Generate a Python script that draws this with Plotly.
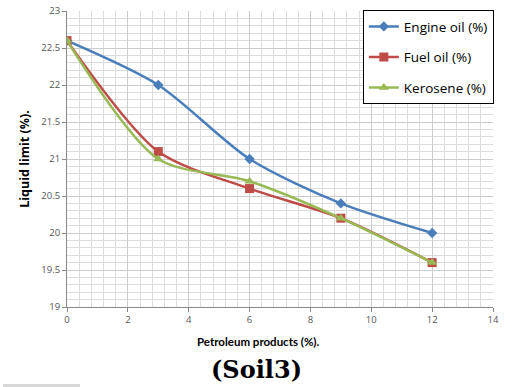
import plotly.graph_objects as go

x_vals = [0, 3, 6, 9, 12]
engine_oil = [22.6, 22.0, 21.0, 20.4, 20.0]
fuel_oil = [22.6, 21.1, 20.6, 20.2, 19.6]
kerosene = [22.6, 21.0, 20.7, 20.2, 19.6]
series_names = ["Engine oil (%)", "Fuel oil (%)", "Kerosene (%)"]
x_ticks = [0, 2, 4, 6, 8, 10, 12, 14]
y_ticks = [19, 19.5, 20, 20.5, 21, 21.5, 22, 22.5, 23]

colors = ["#4A7EBB", "#BE4B48", "#98B954"]
symbols = ["diamond", "square", "triangle-up"]
sizes = [8, 9, 9]

L, R, T, B = 67, 12, 11, 80
W, H = 505, 387
PW, PH = W - L - R, H - T - B


def px_x(p):
    return (p - L) / PW


def px_y(p):
    return (H - B - p) / PH


fig = go.Figure()
for i, (name, ys) in enumerate(zip(series_names, [engine_oil, fuel_oil, kerosene])):
    fig.add_trace(go.Scatter(
        x=x_vals, y=ys, name=name, mode="lines+markers",
        line=dict(color=colors[i], width=2.5, shape="spline", smoothing=0.8),
        marker=dict(symbol=symbols[i], size=sizes[i], color=colors[i]),
        legendgroup=f"g{i}",
    ))

fig.update_layout(
    width=W, height=H,
    margin=dict(l=L, r=R, t=T, b=B, autoexpand=False),
    paper_bgcolor="white", plot_bgcolor="white",
    showlegend=True,
    legend=dict(
        x=1.002, y=1.003, xanchor="right", yanchor="top",
        bordercolor="black", borderwidth=1, bgcolor="white",
        font=dict(family="Open Sans", size=13.5, color="black"),
        traceorder="grouped", tracegroupgap=10, itemwidth=30,
    ),
    font=dict(family="Open Sans"),
)
fig.update_xaxes(
    range=[0, 14], tickvals=x_ticks, ticktext=[str(v) for v in x_ticks],
    showgrid=True, gridcolor="#cccccc", gridwidth=1,
    minor=dict(dtick=0.4, showgrid=True, gridcolor="#dcdcdc", gridwidth=1),
    showline=True, linecolor="#888888", linewidth=1,
    ticks="outside", ticklen=4, tickcolor="#888888",
    tickfont=dict(size=9.5, color="#555555", family="Open Sans"),
    zeroline=False, automargin=False,
)
fig.update_yaxes(
    range=[19, 23], tickvals=y_ticks, ticktext=[str(v) for v in y_ticks],
    showgrid=True, gridcolor="#cccccc", gridwidth=1,
    minor=dict(dtick=0.1, showgrid=True, gridcolor="#dcdcdc", gridwidth=1),
    showline=True, linecolor="#888888", linewidth=1,
    ticks="outside", ticklen=4, tickcolor="#888888",
    tickfont=dict(size=9.5, color="#555555", family="Open Sans"),
    zeroline=False, automargin=False,
    title=dict(text="<b>Liquid limit (%).</b>", font=dict(size=12.5, color="black", family="Open Sans"), standoff=8),
)
fig.add_annotation(
    text="<b>Petroleum products (%).</b>", xref="paper", yref="paper",
    x=px_x(258), y=px_y(341), xanchor="center", yanchor="middle", showarrow=False,
    font=dict(family="Lato", size=11.5, color="black"),
)
fig.add_annotation(
    text="<b>(Soil3)</b>", xref="paper", yref="paper", x=px_x(256), y=px_y(370),
    xanchor="center", yanchor="middle", showarrow=False,
    font=dict(family="DejaVu Serif", size=24, color="black"),
)
fig.add_shape(
    type="rect", xref="paper", yref="paper",
    x0=px_x(3), x1=px_x(80), y0=px_y(387), y1=px_y(384),
    fillcolor="#d8d8d8", line=dict(width=0),
)
fig.write_html("out.html")
